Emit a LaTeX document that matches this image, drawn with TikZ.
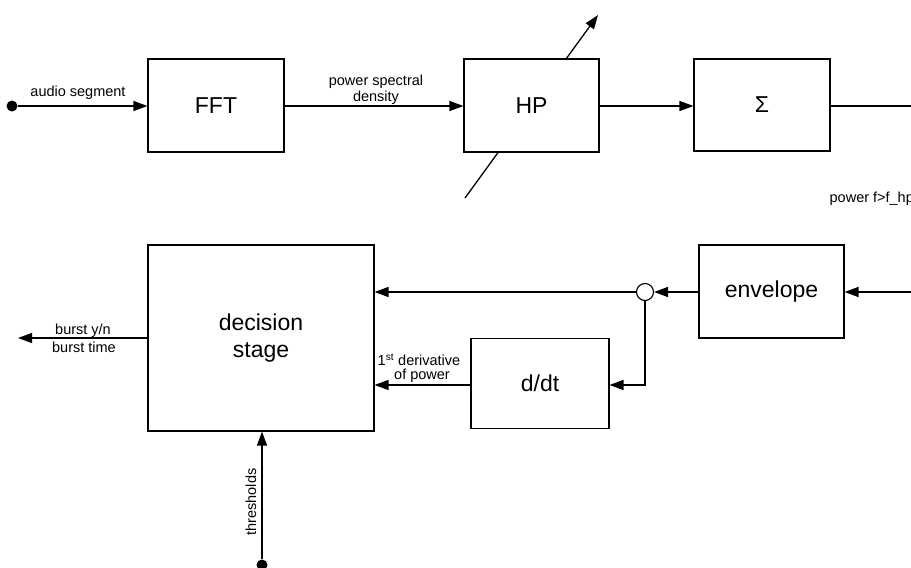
\documentclass[tikz,border=0pt]{standalone}
\usepackage{fontspec}
\setmainfont{Liberation Sans}
\usetikzlibrary{arrows.meta,calc}
\begin{document}
\begin{tikzpicture}[x=1pt,y=-1pt,
  line width=1.3pt,
  blk/.style={draw, fill=white, line width=1.1pt, inner sep=0pt, font=\fontsize{23}{27}\selectfont},
  lbl/.style={font=\fontsize{14.5}{17}\selectfont, inner sep=0pt, align=center},
  arr/.style={-{Triangle[length=14pt,width=10pt]}},
  dotst/.style={circle, fill=black, inner sep=0pt, minimum size=11pt}]
\useasboundingbox (0,0) rectangle (911,568);
% top row
\coordinate (dA) at (465,198);
\coordinate (dB) at (598,15);
\draw[arr] (dA) -- (dB);
\node[blk, minimum width=136pt, minimum height=93pt] (fft) at (216,105.5) {FFT};
\node[blk, minimum width=135pt, minimum height=93pt] (hp) at (531.5,105.5) {HP};
\node[blk, minimum width=136pt, minimum height=92pt] (sum) at (762,105) {Σ};
\node[dotst] (in) at (12,106) {};
\coordinate (outR) at (911,106);
\draw[arr] (in) -- (fft.west |- in);
\node[lbl] at (78,93) {audio segment};
\draw[arr] (fft.east |- in) -- (hp.west |- in);
\node[lbl] at (376,82) {power spectral};
\node[lbl] at (376,98) {density};
\draw[arr] (hp.east |- in) -- (sum.west |- in);
\draw (sum.east |- in) -- (outR);
\node[lbl, anchor=west] at (829,199) {power f>f\_hp};
% bottom row
\node[blk, minimum width=226pt, minimum height=186pt, align=center] (dec) at (261,338) {decision\\stage};
\node[blk, minimum width=145pt, minimum height=93pt] (env) at (771.5,291.5) {envelope};
\node[blk, minimum width=138pt, minimum height=90pt] (ddt) at (540,383.5) {d/dt};
\node[circle, draw, fill=white, line width=1.1pt, minimum size=17pt, inner sep=0pt] (sp) at (645,292) {};
\coordinate (inR) at (911,292);
\draw[arr] (inR) -- (env.east |- inR);
\draw[arr] (env.west |- sp) -- (sp.east);
\draw[arr] (sp.west) -- (dec.east |- sp);
\coordinate (turn) at (645,385);
\draw[arr] (sp.south) -- (turn) -- (ddt.east |- turn);
\draw[arr] (ddt.west |- turn) -- (dec.east |- turn);
\node[lbl] at (419,360) {1\textsuperscript{st} derivative};
\node[lbl] at (422,376) {of power};
\coordinate (outL) at (18,338);
\draw[arr] (dec.west |- outL) -- (outL);
\node[lbl] at (83,331) {burst y/n};
\node[lbl] at (84,347) {burst time};
\node[dotst] (th) at (262,565) {};
\draw[arr] (th) -- (dec.south -| th);
\node[lbl, rotate=90] at (251,502) {thresholds};
\end{tikzpicture}
\end{document}
